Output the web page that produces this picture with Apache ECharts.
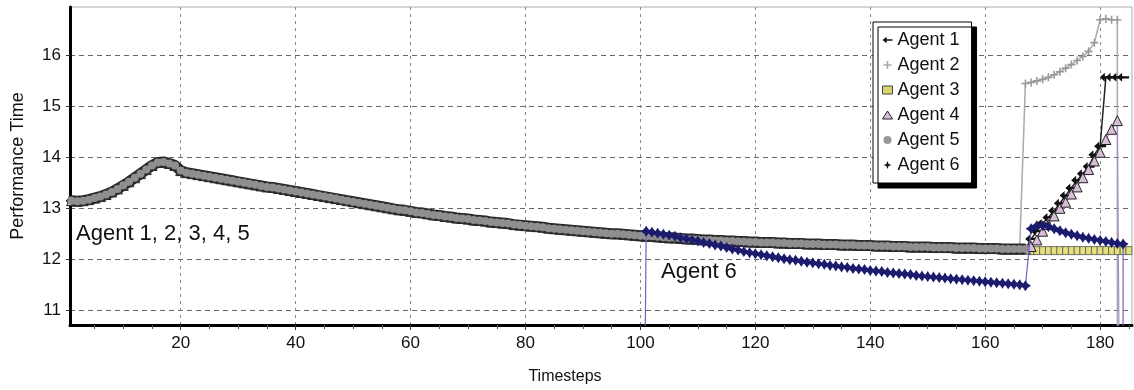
<!DOCTYPE html>
<html>
<head>
<meta charset="utf-8">
<script src="https://cdn.jsdelivr.net/npm/echarts@6/dist/echarts.min.js"></script>
<style>
  html, body { margin: 0; background: #fff; }
  #chart { width: 1134px; height: 390px; }
</style>
</head>
<body>
<div id="chart"></div>
<script>
// shared curve of agents 1-5, timesteps 1..167
var baseStart = 1;
var baseTime = [
  13.15, 13.14, 13.15, 13.17, 13.2, 13.23, 13.27, 13.32, 13.38, 13.45,
  13.52, 13.6, 13.68, 13.76, 13.84, 13.9, 13.91, 13.88, 13.84, 13.74,
  13.7, 13.68, 13.66, 13.64, 13.62, 13.6, 13.58, 13.56, 13.54, 13.52,
  13.5, 13.48, 13.46, 13.44, 13.42, 13.41, 13.39, 13.37, 13.35, 13.33,
  13.31, 13.29, 13.27, 13.25, 13.23, 13.21, 13.19, 13.17, 13.15, 13.13,
  13.11, 13.09, 13.07, 13.05, 13.03, 13.01, 12.99, 12.97, 12.96, 12.94,
  12.92, 12.91, 12.89, 12.87, 12.86, 12.84, 12.83, 12.81, 12.8, 12.79,
  12.77, 12.76, 12.75, 12.73, 12.72, 12.71, 12.7, 12.68, 12.67, 12.66,
  12.65, 12.64, 12.63, 12.61, 12.6, 12.59, 12.58, 12.57, 12.56, 12.55,
  12.54, 12.53, 12.52, 12.51, 12.5, 12.5, 12.49, 12.48, 12.47, 12.46,
  12.45, 12.45, 12.44, 12.43, 12.42, 12.42, 12.41, 12.4, 12.4, 12.39,
  12.38, 12.38, 12.37, 12.37, 12.36, 12.36, 12.35, 12.35, 12.34, 12.34,
  12.33, 12.33, 12.33, 12.32, 12.32, 12.31, 12.31, 12.31, 12.3, 12.3,
  12.3, 12.29, 12.29, 12.29, 12.28, 12.28, 12.28, 12.27, 12.27, 12.27,
  12.26, 12.26, 12.26, 12.25, 12.25, 12.25, 12.24, 12.24, 12.24, 12.24,
  12.23, 12.23, 12.23, 12.23, 12.22, 12.22, 12.22, 12.22, 12.21, 12.21,
  12.21, 12.21, 12.2, 12.2, 12.2, 12.2, 12.2
];

// value used when an agent drops out (falls off the chart)
var DROP = 0;

var agent1Start = 168;
var agent1Tail = [12.4, 12.55, 12.7, 12.82, 12.95, 13.1, 13.25, 13.4, 13.55, 13.68,
  13.82, 14.05, 14.22, 15.57, 15.57, 15.57, 15.57];

var agent2Start = 167;
var agent2Tail = [15.45, 15.47, 15.5, 15.53, 15.57, 15.62, 15.68, 15.75, 15.82, 15.9,
  15.98, 16.08, 16.25, 16.7, 16.72, 16.7, 16.7];
var agent2DropStep = 183;

var agent3Start = 168;
var agent3Tail = [12.17, 12.17, 12.17, 12.17, 12.17, 12.17, 12.17, 12.17, 12.17,
  12.17, 12.17, 12.17, 12.17, 12.17, 12.17, 12.17, 12.17, 12.17];

var agent4Start = 168;
var agent4Tail = [12.25, 12.38, 12.55, 12.68, 12.85, 13.0, 13.12, 13.28, 13.42, 13.6,
  13.76, 13.93, 14.1, 14.35, 14.55, 14.72];
var agent4DropStep = 184;

var agent6JoinStep = 100;
var agent6Start = 101;
var agent6Time = [
  12.55, 12.53, 12.51, 12.49, 12.47, 12.45, 12.42, 12.4, 12.38, 12.36,
  12.33, 12.31, 12.28, 12.26, 12.23, 12.2, 12.18, 12.15, 12.13, 12.11,
  12.09, 12.07, 12.05, 12.03, 12.01, 11.99, 11.98, 11.96, 11.94, 11.93,
  11.91, 11.9, 11.88, 11.87, 11.85, 11.84, 11.82, 11.81, 11.8, 11.78,
  11.77, 11.76, 11.74, 11.73, 11.72, 11.71, 11.7, 11.68, 11.67, 11.66,
  11.65, 11.64, 11.63, 11.62, 11.61, 11.6, 11.59, 11.58, 11.57, 11.56,
  11.55, 11.54, 11.53, 11.52, 11.51, 11.5, 11.48,
  12.6, 12.66, 12.66, 12.64, 12.6, 12.56, 12.52, 12.49, 12.46, 12.43,
  12.41, 12.39, 12.37, 12.35, 12.33, 12.31, 12.3
];
var agent6DropStep = 184;

var xTicks = [20, 40, 60, 80, 100, 120, 140, 160, 180];
var xMinorTicks = [5, 10, 15, 25, 30, 35, 45, 50, 55, 65, 70, 75, 85, 90, 95,
  105, 110, 115, 125, 130, 135, 145, 150, 155, 165, 170, 175, 185];
var yTicks = [11, 12, 13, 14, 15, 16];

function pairs(start, vals) {
  return vals.map(function (v, i) { return [start + i, v]; });
}
function baseUntil(lastStep) {
  return pairs(baseStart, baseTime.slice(0, lastStep - baseStart + 1));
}

var plusIcon = 'path://M4,0 L6,0 L6,4 L10,4 L10,6 L6,6 L6,10 L4,10 L4,6 L0,6 L0,4 L4,4 Z';
var starIcon = 'path://M5,0 L6.4,3.6 L10,5 L6.4,6.4 L5,10 L3.6,6.4 L0,5 L3.6,3.6 Z';
var fatStar = 'path://M5,0 L7,3 L10,5 L7,7 L5,10 L3,7 L0,5 L3,3 Z';
var arrowIcon = 'path://M0,5 L5,1 L5,4 L12,4 L12,6 L5,6 L5,9 Z';

var myChart = echarts.init(document.getElementById('chart'));
var font = '"Liberation Sans", Arial, sans-serif';

var option = {
  animation: false,
  backgroundColor: '#fff',
  grid: { left: 70, right: 2, top: 7, bottom: 62, show: true, borderColor: '#aaa', borderWidth: 1 },
  legend: {
    orient: 'vertical',
    left: 873,
    top: 22,
    padding: [9, 12, 9, 9],
    itemGap: 7,
    itemWidth: 10,
    itemHeight: 8,
    backgroundColor: '#fff',
    borderColor: '#000',
    borderWidth: 1,
    shadowColor: '#000',
    shadowBlur: 0,
    shadowOffsetX: 5,
    shadowOffsetY: 5,
    textStyle: { fontFamily: font, fontSize: 18, color: '#111' },
    data: [
      { name: 'Agent 1', icon: arrowIcon, itemStyle: { color: '#111' } },
      { name: 'Agent 2', icon: plusIcon, itemStyle: { color: '#aaa' } },
      { name: 'Agent 3', icon: 'rect', itemStyle: { color: '#d8d470', borderColor: '#444', borderWidth: 1 } },
      { name: 'Agent 4', icon: 'triangle', itemStyle: { color: '#d8bcd8', borderColor: '#222', borderWidth: 1 } },
      { name: 'Agent 5', icon: 'circle', itemStyle: { color: '#999' } },
      { name: 'Agent 6', icon: starIcon, itemStyle: { color: '#111' } }
    ]
  },
  xAxis: [{
    type: 'value',
    min: 0.73,
    max: 185.55,
    name: 'Timesteps',
    nameLocation: 'middle',
    nameGap: 44,
    nameTextStyle: { fontFamily: font, fontSize: 16, color: '#111', padding: [0, 72, 0, 0] },
    axisLine: { lineStyle: { color: '#000', width: 3 } },
    axisTick: { customValues: xTicks, length: 5, lineStyle: { color: '#333' } },
    axisLabel: { customValues: xTicks, fontFamily: font, fontSize: 17, color: '#111', margin: 10 },
    splitLine: { show: true, lineStyle: { color: '#888', type: [3, 4], width: 1 } }
  }, {
    type: 'value',
    min: 0.73,
    max: 185.55,
    position: 'bottom',
    axisLine: { show: false },
    axisTick: { customValues: xMinorTicks, length: 4, lineStyle: { color: '#555' } },
    axisLabel: { show: false },
    splitLine: { show: false }
  }],
  yAxis: {
    type: 'value',
    min: 10.71,
    max: 16.95,
    name: 'Performance Time',
    nameLocation: 'middle',
    nameGap: 43,
    nameTextStyle: { fontFamily: font, fontSize: 18, color: '#111' },
    axisLine: { lineStyle: { color: '#000', width: 3 } },
    axisTick: { customValues: yTicks, length: 4, lineStyle: { color: '#333' } },
    axisLabel: { customValues: yTicks, fontFamily: font, fontSize: 17, color: '#111', margin: 9 },
    splitLine: { show: true, lineStyle: { color: '#666', type: [5, 4], width: 1 } }
  },
  graphic: [
    { type: 'text', left: 76, top: 223, z: 50,
      style: { text: 'Agent 1, 2, 3, 4, 5', font: '22px ' + font, fill: '#111' } },
    { type: 'text', left: 661, top: 261, z: 50,
      style: { text: 'Agent 6', font: '22px ' + font, fill: '#111' } }
  ],
  series: [
    {
      name: 'Agent 1', type: 'line', z: 2,
      data: baseUntil(agent1Start - 1).concat(pairs(agent1Start, agent1Tail)),
      symbol: arrowIcon, symbolSize: [12, 9],
      itemStyle: { color: '#111' },
      lineStyle: { color: '#222', width: 1.5 }
    },
    {
      name: 'Agent 2', type: 'line', z: 2,
      data: baseUntil(agent2Start - 1).concat(pairs(agent2Start, agent2Tail), [[agent2DropStep, DROP]]),
      symbol: plusIcon, symbolSize: 8,
      itemStyle: { color: '#999' },
      lineStyle: { color: '#aaa', width: 1.5 }
    },
    {
      name: 'Agent 3', type: 'line', z: 2,
      data: baseUntil(agent3Start - 1).concat(pairs(agent3Start, agent3Tail)),
      symbol: 'rect', symbolSize: [6, 8],
      itemStyle: { color: '#e4e07e', borderColor: '#555', borderWidth: 0.8 },
      lineStyle: { color: '#777', width: 1 }
    },
    {
      name: 'Agent 4', type: 'line', z: 2,
      data: baseUntil(agent4Start - 1).concat(pairs(agent4Start, agent4Tail), [[agent4DropStep, DROP]]),
      symbol: 'triangle', symbolSize: 10,
      itemStyle: { color: '#d8bcd8', borderColor: '#222', borderWidth: 1 },
      lineStyle: { color: '#a58cc4', width: 1.2 }
    },
    {
      name: 'Agent 5', type: 'line', z: 3,
      data: baseUntil(167),
      symbol: 'circle', symbolSize: 8,
      itemStyle: { color: '#8f8f8f' },
      lineStyle: { color: '#2a2a2a', width: 11 }
    },
    {
      name: 'Agent 6', type: 'line', z: 4,
      data: [[agent6JoinStep, DROP]].concat(pairs(agent6Start, agent6Time), [[agent6DropStep, DROP]]),
      symbol: fatStar, symbolSize: 11,
      itemStyle: { color: '#1c1c6e' },
      lineStyle: { color: '#6a64c0', width: 1.2 }
    }
  ]
};

myChart.setOption(option);
</script>
</body>
</html>
